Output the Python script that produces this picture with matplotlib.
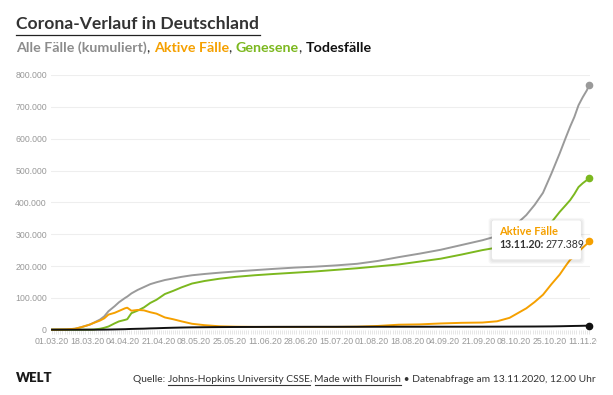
import matplotlib
matplotlib.use("Agg")
import matplotlib.pyplot as plt
import matplotlib.dates as mdates
from matplotlib.patches import FancyBboxPatch, Polygon
from matplotlib.lines import Line2D
from matplotlib.ticker import FuncFormatter, MultipleLocator
from matplotlib.transforms import Bbox
import pandas as pd

W, H = 613, 395

# Werte (gerundet)
dates = [
    "2020-03-01", "2020-03-08", "2020-03-12", "2020-03-15", "2020-03-19",
    "2020-03-21", "2020-03-24", "2020-03-26", "2020-03-28", "2020-03-31",
    "2020-04-02", "2020-04-05", "2020-04-06", "2020-04-08", "2020-04-11",
    "2020-04-14", "2020-04-17", "2020-04-20", "2020-04-24", "2020-04-28",
    "2020-05-02", "2020-05-07", "2020-05-13", "2020-05-20", "2020-05-28",
    "2020-06-06", "2020-06-15", "2020-06-25", "2020-07-05", "2020-07-15",
    "2020-07-25", "2020-08-04", "2020-08-14", "2020-08-24", "2020-09-03",
    "2020-09-13", "2020-09-23", "2020-09-30", "2020-10-06", "2020-10-10",
    "2020-10-14", "2020-10-18", "2020-10-22", "2020-10-26", "2020-10-30",
    "2020-11-02", "2020-11-04", "2020-11-06", "2020-11-08", "2020-11-10",
    "2020-11-12", "2020-11-13",
]
alle_faelle = [
    130, 1000, 3000, 8000, 16000,
    22000, 32000, 42000, 58000, 74000,
    86000, 100000, 104000, 114000, 125000,
    134000, 143000, 149000, 156000, 161000,
    166000, 171000, 175000, 179000, 183000,
    187000, 191000, 195000, 198000, 202000,
    207000, 216000, 228000, 239000, 251000,
    266000, 281000, 294000, 315000, 336000,
    360000, 392000, 430000, 490000, 554000,
    605000, 638000, 668000, 705000, 730000,
    752000, 768000,
]
genesene = [
    0, 0, 0, 100, 200,
    500, 3000, 6000, 10000, 20000,
    26000, 31000, 33000, 52000, 60000,
    70000, 84000, 94000, 112000, 122000,
    133000, 145000, 153000, 160000, 166000,
    171000, 175000, 179000, 183000, 188000,
    193000, 199000, 205000, 214000, 223000,
    236000, 250000, 258000, 268000, 274000,
    283000, 295000, 310000, 337000, 370000,
    392000, 407000, 426000, 448000, 460000,
    470000, 477000,
]
aktive_faelle = [
    130, 1000, 3000, 7900, 15800,
    21400, 28800, 35700, 47400, 53100,
    58800, 67400, 69100, 59600, 62100,
    60700, 54900, 50400, 38500, 32800,
    26200, 18600, 14200, 10800, 9500,
    8800, 8800, 8800, 8800, 8900,
    9500, 11800, 15700, 16700, 19600,
    21600, 22500, 26400, 37300, 52200,
    67100, 87000, 109800, 142600, 173200,
    201800, 219500, 230200, 245000, 257700,
    269400, 277389,
]
todesfaelle = [
    0, 0, 3, 9, 40,
    80, 160, 270, 500, 900,
    1200, 1600, 1900, 2400, 2900,
    3300, 4100, 4600, 5500, 6200,
    6800, 7400, 7800, 8200, 8500,
    8700, 8900, 9000, 9100, 9100,
    9200, 9200, 9300, 9300, 9400,
    9400, 9500, 9600, 9700, 9800,
    9900, 10000, 10200, 10400, 10800,
    11200, 11500, 11800, 12000, 12300,
    12600, 13000,
]

tick_labels = [
    "01.03.20", "18.03.20", "04.04.20", "21.04.20", "08.05.20", "25.05.20",
    "11.06.20", "28.06.20", "15.07.20", "01.08.20", "18.08.20", "04.09.20",
    "21.09.20", "08.10.20", "25.10.20", "11.11.20",
]

GRAY = "#9a9a9a"
ORANGE = "#f5a000"
GREEN = "#7cb81f"
BLACK = "#111111"
TEXT = "#333333"
FONT = "Lato"


def px_y(y):
    return (H - y) / H


def de_num(v):
    return f"{v:,.0f}".replace(",", ".")


def rich_text(fig, x, y, parts, size, ha="left"):
    """Place differently styled pieces of text side by side, y in px from top."""
    r = fig.canvas.get_renderer()

    def width(s, weight):
        t = fig.text(0, 0, s + "|", fontsize=size, fontweight=weight, family=FONT)
        bar = fig.text(0, 0, "|", fontsize=size, fontweight=weight, family=FONT)
        w = t.get_window_extent(r).width - bar.get_window_extent(r).width
        t.remove()
        bar.remove()
        return w

    widths = [width(p[0], p[2]) for p in parts]
    start = x if ha == "left" else x - sum(widths)
    cur = start
    for (s, color, weight, ul), w in zip(parts, widths):
        fig.text(cur / W, px_y(y), s, fontsize=size, fontweight=weight,
                 color=color, family=FONT, va="baseline", ha="left")
        if ul:
            lead = width(" ", weight) if s.startswith(" ") else 0
            fig.add_artist(Line2D([(cur + lead) / W, (cur + w) / W],
                                  [px_y(y + 2.5)] * 2, color=color, lw=0.8))
        cur += w
    return start, cur


fig = plt.figure(figsize=(W / 100, H / 100), dpi=100)
fig.patch.set_facecolor("white")

x = pd.to_datetime(dates)
ticks = pd.to_datetime(tick_labels, format="%d.%m.%y")

ax = fig.add_axes([51 / W, px_y(329.7), (590 - 51) / W, (329.7 - 75) / H])
ax.set_facecolor("white")

ax.plot(x, alle_faelle, color=GRAY, lw=1.4, clip_on=False)
ax.plot(x, genesene, color=GREEN, lw=1.4, clip_on=False)
ax.plot(x, aktive_faelle, color=ORANGE, lw=1.4, clip_on=False)
ax.plot(x, todesfaelle, color=BLACK, lw=1.4, clip_on=False)
for series, col in [(alle_faelle, GRAY), (genesene, GREEN),
                    (aktive_faelle, ORANGE), (todesfaelle, BLACK)]:
    ax.plot(x[-1:], series[-1:], "o", color=col, ms=4.5, clip_on=False)

ax.set_xlim(x[0] - pd.Timedelta(hours=12), x[-1] + pd.Timedelta(hours=12))
ax.set_ylim(0, 800000)
ax.yaxis.set_major_locator(MultipleLocator(100000))
ax.yaxis.set_major_formatter(FuncFormatter(lambda v, p: de_num(v)))
ax.set_xticks(ticks)
ax.set_xticklabels(tick_labels)
ax.xaxis.set_minor_locator(mdates.DayLocator())

for s in ax.spines.values():
    s.set_visible(False)
ax.grid(axis="y", color="#eeeeee", lw=0.8)
ax.set_axisbelow(True)
ax.tick_params(axis="y", length=0, pad=3, labelsize=6.3, labelcolor="#999999")
ax.tick_params(axis="x", which="both", length=3, color="#e2e2e2", width=0.6,
               pad=2.5, labelsize=6.3, labelcolor="#999999")
# last date label is cut at the right edge of the chart area, as in the original
label_clip = Bbox.from_extents(0, 0, 597, H)
for lab in ax.get_yticklabels() + ax.get_xticklabels():
    lab.set_family("Liberation Sans")
    lab.set_clip_box(label_clip)
    lab.set_clip_on(True)
ax.get_ygridlines()[0].set_visible(False)

# Titel und Untertitel
r = fig.canvas.get_renderer()
title = fig.text(16 / W, px_y(29), "Corona-Verlauf in Deutschland", fontsize=12.6,
                 fontweight="bold", color=TEXT, family=FONT, va="baseline")
tb = title.get_window_extent(r)
fig.add_artist(Line2D([16 / W, (tb.x1 + 1) / W], [px_y(34.5)] * 2,
                      color="#222222", lw=0.9))

rich_text(fig, 16, 52, [
    ("Alle Fälle (kumuliert)", "#8c8c8c", "bold", False),
    (", ", TEXT, "normal", False),
    ("Aktive Fälle", ORANGE, "bold", False),
    (", ", TEXT, "normal", False),
    ("Genesene", GREEN, "bold", False),
    (", ", TEXT, "normal", False),
    ("Todesfälle", "#111111", "bold", False),
], 10.3)

# Tooltip am letzten Wert der aktiven Fälle
px, py = ax.transData.transform((mdates.date2num(x[-1]), aktive_faelle[-1]))
bx1, by1 = px - 8, py + 21
bw, bh = 89, 39
for i in range(3):
    sh = FancyBboxPatch((bx1 - bw - 1.5 - i, by1 - bh - 2.5 - i), bw + 3 + 2 * i,
                        bh + 3 + 2 * i, boxstyle="round,pad=0,rounding_size=3",
                        transform=None, facecolor="black", edgecolor="none",
                        alpha=0.03, zorder=5)
    fig.add_artist(sh)
box = FancyBboxPatch((bx1 - bw, by1 - bh), bw, bh,
                     boxstyle="round,pad=0,rounding_size=2", transform=None,
                     facecolor="white", edgecolor="none", zorder=6)
fig.add_artist(box)
tri = Polygon([(bx1 - 0.5, py + 6), (bx1 + 4, py), (bx1 - 0.5, py - 6)],
              closed=True, transform=None, facecolor="white",
              edgecolor="none", zorder=6)
fig.add_artist(tri)
fig.text((bx1 - bw + 7) / W, (by1 - 15) / H, "Aktive Fälle", fontsize=8,
         fontweight="bold", color=ORANGE, family=FONT, va="baseline", zorder=7)
t1 = fig.text((bx1 - bw + 7) / W, (by1 - 28) / H, "13.11.20:", fontsize=7.6,
              fontweight="bold", color=TEXT, family=FONT, va="baseline", zorder=7)
e1 = t1.get_window_extent(r)
fig.text((e1.x1 + 2.5) / W, (by1 - 28) / H, de_num(aktive_faelle[-1]),
         fontsize=7.6, color=TEXT, family=FONT, va="baseline", zorder=7)

# Fußzeile
fig.text(16 / W, px_y(382), "WELT", fontsize=9.5, fontweight="heavy",
         color="#1a1a1a", family=FONT, va="baseline")
rich_text(fig, 596, 382, [
    ("Quelle: ", TEXT, "normal", False),
    ("Johns-Hopkins University CSSE", TEXT, "normal", True),
    (", ", TEXT, "normal", False),
    ("Made with Flourish", TEXT, "normal", True),
    (" • Datenabfrage am 13.11.2020, 12.00 Uhr", TEXT, "normal", False),
], 7.4, ha="right")

fig.savefig("out.png", dpi=100, facecolor="white")
